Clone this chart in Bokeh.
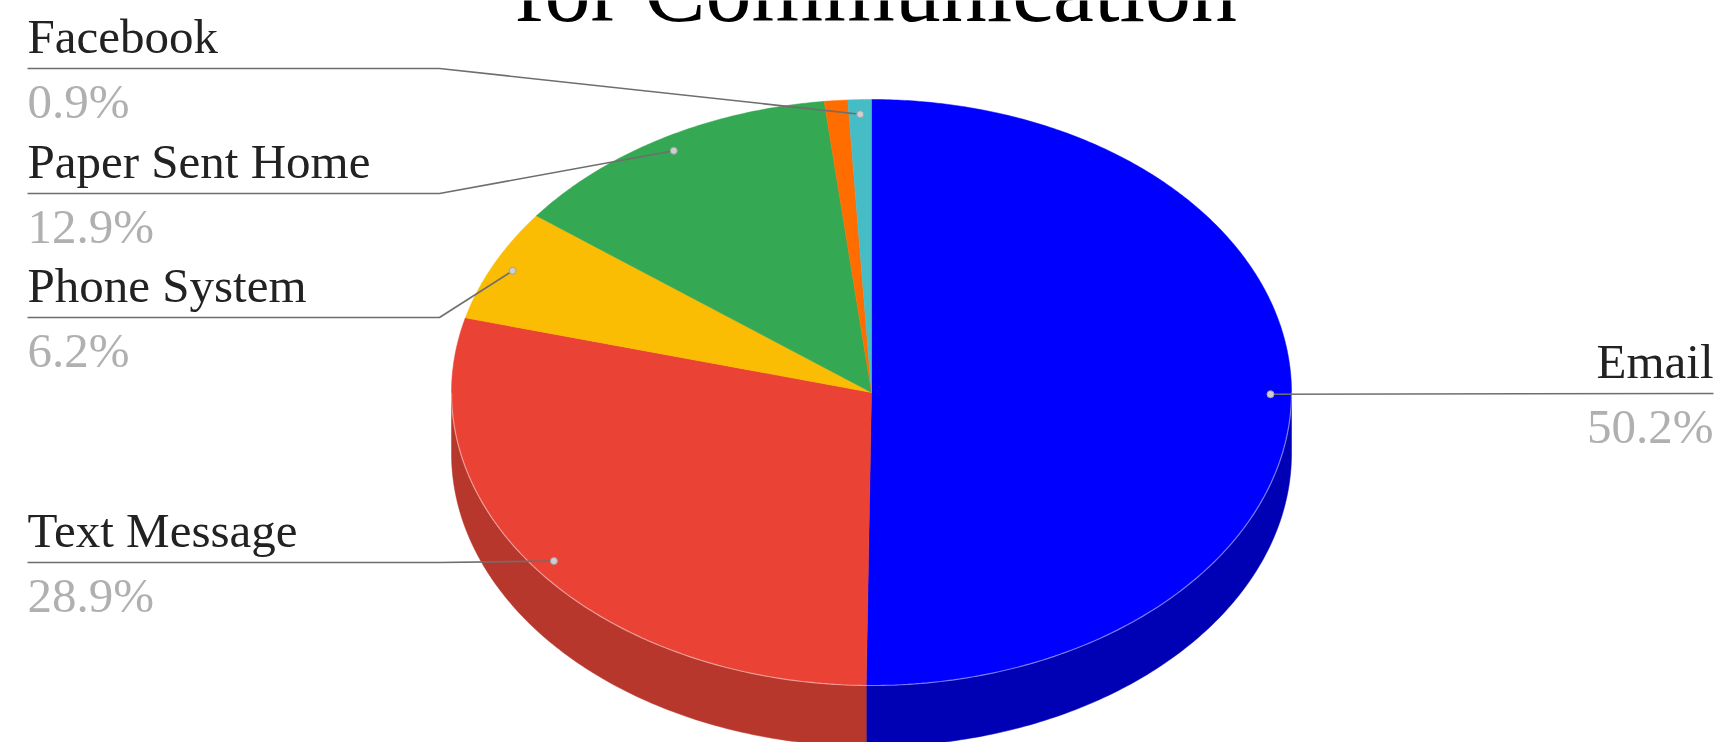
import numpy as np
from bokeh.plotting import figure
from bokeh.models import Range1d
from bokeh.embed import file_html
from bokeh.resources import INLINE
from bokeh.core.properties import value

# ---------------- data ----------------
categories = ["Email", "Text Message", "Phone System", "Paper Sent Home", "Other", "Facebook"]
percent = [50.2, 28.9, 6.2, 12.9, 0.9, 0.9]
pct_labels = ["50.2%", "28.9%", "6.2%", "12.9%", "0.9%", "0.9%"]
show_label = [True, True, True, True, False, True]
colors = ["#0000FF", "#EA4335", "#FBBC04", "#34A853", "#FF6D01", "#46BDC6"]
side_colors = ["#0000B4", "#B8372C", "#C49200", "#28834A", "#C45400", "#36939A"]
title_text = "for Communication"

# ---------------- layout (page pixel coordinates) ----------------
CX, CY, RX, RY, DEPTH = 871.0, 392.0, 420.0, 293.0, 61.0
LABEL_SIDE = {"Email": "right", "Text Message": "left", "Phone System": "left",
              "Paper Sent Home": "left", "Facebook": "left"}
LABEL_LINE_Y = {"Email": 393, "Text Message": 562, "Phone System": 317,
                "Paper Sent Home": 193, "Facebook": 68}
LEFT_X, ELBOW_X, RIGHT_X = 27, 439, 1713
FONT = "Liberation Serif"
LBL_SIZE = 49
TITLE_SIZE = 92
BASE_FIX = 0.35  # em shift to put the alphabetic baseline where intended

W, H = 1714, 742
p = figure(width=W, height=H, output_backend="svg", toolbar_location=None,
           x_range=Range1d(0, W), y_range=Range1d(H, 0), min_border=0)
p.axis.visible = False
p.grid.visible = False
p.outline_line_color = None
p.background_fill_color = "white"
p.border_fill_color = "white"


def pt(theta_deg, r=1.0, dy=0.0):
    t = np.radians(theta_deg)
    return CX + r * RX * np.sin(t), CY - r * RY * np.cos(t) + dy


total = sum(percent)
cum = np.concatenate([[0], np.cumsum(percent)]) / total * 360.0

# sides (visible front half: 90..270 degrees)
for i in range(len(percent)):
    lo, hi = max(cum[i], 90.0), min(cum[i + 1], 270.0)
    if hi <= lo:
        continue
    th = np.linspace(lo, hi, 120)
    tx, ty = pt(th)
    bx, by = pt(th[::-1], dy=DEPTH)
    p.patch(list(tx) + list(bx), list(ty) + list(by), fill_color=side_colors[i],
            line_color=side_colors[i], line_width=0.5)

# top faces
for i in range(len(percent)):
    th = np.linspace(cum[i], cum[i + 1], max(4, int((cum[i + 1] - cum[i]) * 2)))
    ax, ay = pt(th)
    p.patch([CX] + list(ax), [CY] + list(ay), fill_color=colors[i],
            line_color=colors[i], line_width=0.5)

# faint highlight along the front rim of the top face
th = np.linspace(90, 270, 200)
hx, hy = pt(th)
p.line(hx, hy, line_color="white", line_alpha=0.45, line_width=1.2)


def txt(x, y, s, size, color, align):
    p.text([x], [y - BASE_FIX * size], text=[s], text_font=value(FONT),
           text_font_size=value(f"{size}px"), text_color=color,
           text_align=align, text_baseline="alphabetic")


# leader lines, dots and labels
for i, cat in enumerate(categories):
    if not show_label[i]:
        continue
    mid = (cum[i] + cum[i + 1]) / 2.0
    dx, dy = pt(mid, r=0.95)
    ly = LABEL_LINE_Y[cat]
    if LABEL_SIDE[cat] == "left":
        xs, ys = [LEFT_X, ELBOW_X, dx], [ly, ly, dy]
        tx, align = LEFT_X, "left"
    else:
        xs, ys = [dx, RIGHT_X], [dy, ly]
        tx, align = RIGHT_X, "right"
    p.line(xs, ys, line_color="#6e6e6e", line_width=1.6)
    p.scatter([dx], [dy], size=7, fill_color="#cfcfcf", line_color="#a0a0a0",
              line_width=1)
    txt(tx, ly - 15, cat, LBL_SIZE, "#222222", align)
    txt(tx, ly + 50, pct_labels[i], LBL_SIZE, "#b0b0b0", align)

# title (upper lines cut off in the reference)
txt(875, 22, title_text, TITLE_SIZE, "#000000", "center")

open("out.html", "w").write(file_html(p, INLINE))
